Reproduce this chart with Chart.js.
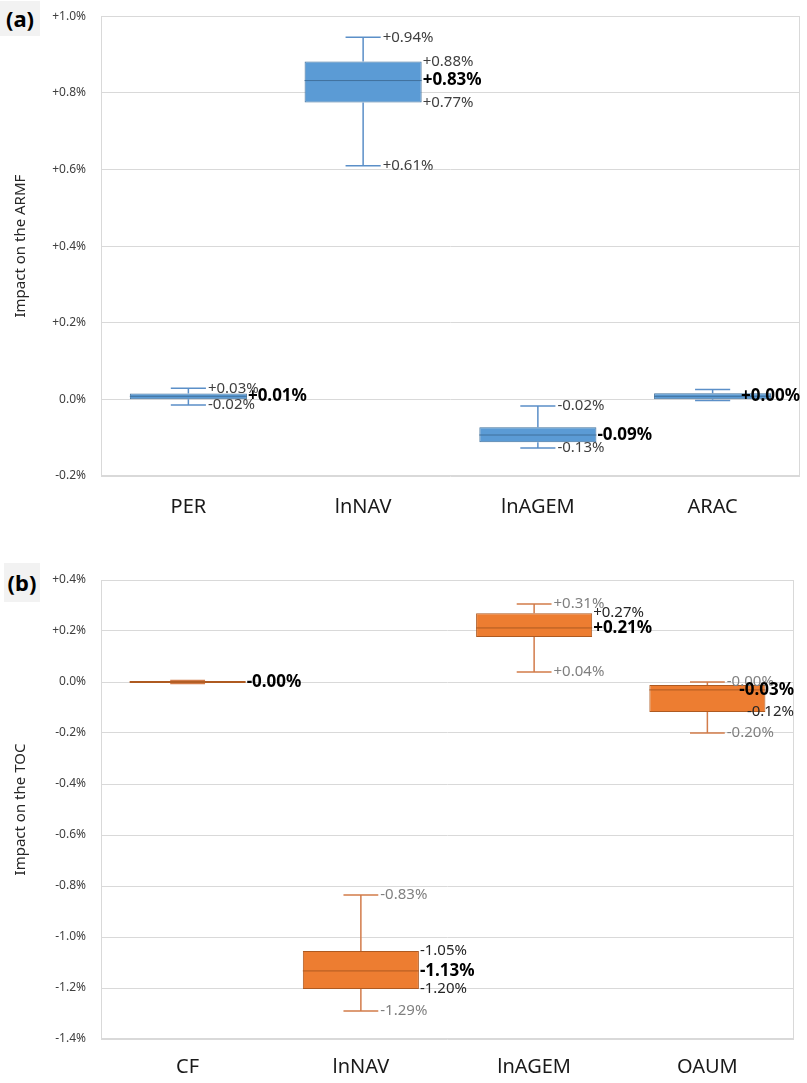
<!DOCTYPE html>
<html>
<head>
<meta charset="utf-8">
<script src="https://cdn.jsdelivr.net/npm/chart.js@4.4.1/dist/chart.umd.min.js"></script>
<style>
  body { margin:0; background:#fff; width:807px; height:1083px; position:relative; overflow:hidden; font-family:'Noto Sans', sans-serif; }
  canvas { position:absolute; left:0; }
  #chartA { top:-6px; }
  #chartB { top:540px; }
  .panel { position:absolute; background:#f2f2f2; font-weight:bold; font-size:22px; text-align:center; color:#000; }
</style>
</head>
<body>
<canvas id="chartA" width="807" height="546"></canvas>
<canvas id="chartB" width="807" height="544"></canvas>
<div class="panel" style="left:0;top:1px;width:40px;height:35px;line-height:35px">(a)</div>
<div class="panel" style="left:4px;top:563px;width:36px;height:39px;line-height:39px">(b)</div>
<script>
// (a) impact on the ARMF, in %
const categoriesA = ['PER', 'lnNAV', 'lnAGEM', 'ARAC']
const minA    = [-0.015, 0.61, -0.127, -0.003]
const q1A     = [0.0, 0.775, -0.112, 0.0]
const medianA = [0.008, 0.832, -0.093, 0.008]
const q3A     = [0.015, 0.882, -0.073, 0.016]
const maxA    = [0.029, 0.945, -0.017, 0.026]
const maxLabelsA    = ['+0.03%', '+0.94%', '-0.02%', '']
const q3LabelsA     = ['', '+0.88%', '', '']
const medianLabelsA = ['+0.01%', '+0.83%', '-0.09%', '+0.00%']
const q1LabelsA     = ['', '+0.77%', '', '']
const minLabelsA    = ['-0.02%', '+0.61%', '-0.13%', '']

// (b) impact on the TOC, in %
const categoriesB = ['CF', 'lnNAV', 'lnAGEM', 'OAUM']
const minB    = [-0.006, -1.29, 0.039, -0.20]
const q1B     = [-0.004, -1.204, 0.176, -0.118]
const medianB = [0.0, -1.133, 0.212, -0.031]
const q3B     = [0.004, -1.055, 0.27, -0.012]
const maxB    = [0.006, -0.835, 0.306, 0.0]
const maxLabelsB    = ['', '-0.83%', '+0.31%', '-0.00%']
const q3LabelsB     = ['', '-1.05%', '+0.27%', '']
const medianLabelsB = ['-0.00%', '-1.13%', '+0.21%', '-0.03%']
const q1LabelsB     = ['', '-1.20%', '', '-0.12%']
const minLabelsB    = ['', '-1.29%', '+0.04%', '-0.20%']

Chart.defaults.font.family = "'Noto Sans', sans-serif"

// whiskers, median line and value labels on top of the floating bars
const boxExtras = {
  id: 'boxExtras',
  beforeDatasetsDraw(chart) {
    const {ctx, chartArea: a} = chart
    ctx.save()
    ctx.strokeStyle = '#d9d9d9'
    ctx.lineWidth = 1
    ctx.strokeRect(Math.round(a.left) + 0.5, Math.round(a.top) + 0.5, Math.round(a.right - a.left) - 1, Math.round(a.bottom - a.top) - 1)
    ctx.restore()
  },
  afterDatasetsDraw(chart, args, o) {
    const ctx = chart.ctx
    const y = chart.scales.y
    const right = chart.chartArea.right
    const meta = chart.getDatasetMeta(0)
    // labels that would run past the plot are pushed back inside, like Excel does
    const label = (txt, x, yy) => {
      if (!txt) return
      const w = ctx.measureText(txt).width
      ctx.fillText(txt, Math.min(x, right - w), yy)
    }
    ctx.save()
    meta.data.forEach((bar, i) => {
      const x = bar.x
      const half = bar.width / 2
      const cap = bar.width * 0.15
      const yMin = y.getPixelForValue(o.min[i])
      const yQ1 = y.getPixelForValue(o.q1[i])
      const yMed = y.getPixelForValue(o.median[i])
      const yQ3 = y.getPixelForValue(o.q3[i])
      const yMax = y.getPixelForValue(o.max[i])

      ctx.strokeStyle = o.whiskerColor
      ctx.lineWidth = 1.5
      ctx.beginPath()
      ctx.moveTo(x, yQ3); ctx.lineTo(x, yMax)
      ctx.moveTo(x - cap, yMax); ctx.lineTo(x + cap, yMax)
      ctx.moveTo(x, yQ1); ctx.lineTo(x, yMin)
      ctx.moveTo(x - cap, yMin); ctx.lineTo(x + cap, yMin)
      ctx.stroke()

      ctx.strokeStyle = o.medianColor
      ctx.lineWidth = 1
      ctx.beginPath()
      ctx.moveTo(x - half, yMed); ctx.lineTo(x + half, yMed)
      ctx.stroke()

      ctx.textAlign = 'left'
      ctx.textBaseline = 'middle'
      ctx.font = "15px 'Noto Sans'"
      ctx.fillStyle = o.whiskerLabelColor
      label(o.maxLabels[i], x + cap + 2, yMax)
      label(o.minLabels[i], x + cap + 2, yMin)
      ctx.fillStyle = o.boxLabelColor
      label(o.q3Labels[i], x + half + 1, yQ3)
      label(o.q1Labels[i], x + half + 1, yQ1)
      ctx.font = "bold 17px 'Noto Sans'"
      ctx.fillStyle = '#000'
      label(o.medianLabels[i], x + half + 1, yMed)
    })
    ctx.restore()
  }
}

function pct(v) {
  if (Math.abs(v) < 1e-9) return '0.0%'
  return (v > 0 ? '+' : '') + v.toFixed(1) + '%'
}

function makeChart(id, cfg) {
  return new Chart(document.getElementById(id), {
    type: 'bar',
    data: {
      labels: cfg.categories,
      datasets: [{
        data: cfg.q1.map((v, i) => [v, cfg.q3[i]]),
        backgroundColor: cfg.fill,
        borderColor: cfg.border,
        borderWidth: 1,
        borderSkipped: false,
        barPercentage: 0.67,
        categoryPercentage: 1
      }]
    },
    options: {
      responsive: false,
      animation: false,
      devicePixelRatio: 1,
      layout: { padding: { top: cfg.top, right: cfg.right, left: 0, bottom: 0 } },
      plugins: {
        legend: { display: false },
        tooltip: { enabled: false },
        boxExtras: {
          min: cfg.min, q1: cfg.q1, median: cfg.median, q3: cfg.q3, max: cfg.max,
          maxLabels: cfg.maxLabels, q3Labels: cfg.q3Labels, medianLabels: cfg.medianLabels,
          q1Labels: cfg.q1Labels, minLabels: cfg.minLabels,
          whiskerColor: cfg.whisker, medianColor: cfg.border,
          whiskerLabelColor: cfg.whiskerLabelColor, boxLabelColor: cfg.boxLabelColor
        }
      },
      scales: {
        x: {
          grid: { display: false },
          border: { display: false },
          ticks: { font: { size: 20 }, color: '#1a1a1a', padding: cfg.xPad },
          afterFit: s => { s.height = cfg.xHeight }
        },
        y: {
          min: cfg.yMin, max: cfg.yMax,
          grid: { color: '#d9d9d9', drawTicks: false },
          border: { display: false },
          ticks: { stepSize: 0.2, font: { size: 12 }, color: '#404040', padding: 15, callback: v => pct(v) },
          title: { display: true, text: cfg.title, font: { size: 15 }, color: '#262626', padding: { top: 12, bottom: 0 } },
          afterFit: s => { s.width = 101 }
        }
      }
    },
    plugins: [boxExtras]
  })
}

makeChart('chartA', {
  categories: categoriesA, min: minA, q1: q1A, median: medianA, q3: q3A, max: maxA,
  maxLabels: maxLabelsA, q3Labels: q3LabelsA, medianLabels: medianLabelsA, q1Labels: q1LabelsA, minLabels: minLabelsA,
  fill: '#5b9bd5', border: '#41719c', whisker: '#5b8fc8',
  whiskerLabelColor: '#404040', boxLabelColor: '#404040',
  yMin: -0.2, yMax: 1.0, title: 'Impact on the ARMF',
  top: 14, right: 7, xHeight: 64, xPad: 11
})

makeChart('chartB', {
  categories: categoriesB, min: minB, q1: q1B, median: medianB, q3: q3B, max: maxB,
  maxLabels: maxLabelsB, q3Labels: q3LabelsB, medianLabels: medianLabelsB, q1Labels: q1LabelsB, minLabels: minLabelsB,
  fill: '#ed7d31', border: '#ae5a21', whisker: '#d27c4a',
  whiskerLabelColor: '#808080', boxLabelColor: '#262626',
  yMin: -1.4, yMax: 0.4, title: 'Impact on the TOC',
  top: 40, right: 13, xHeight: 45, xPad: 8
})
</script>
</body>
</html>
